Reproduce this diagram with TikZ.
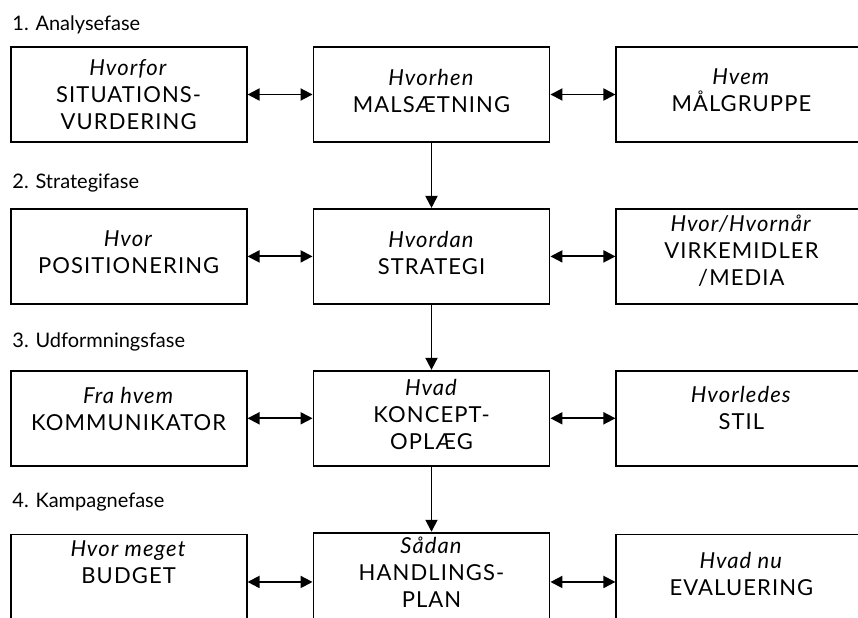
\documentclass[tikz,border=0pt]{standalone}
\usepackage{fontspec}
\setmainfont{Lato}
\usetikzlibrary{arrows.meta, positioning}
\tikzset{
  box/.style     = {draw=black, line width=0.95pt, rectangle, align=center,
                    minimum width=118pt, minimum height=47.5pt, inner sep=2pt,
                    font=\fontsize{11}{13.5}\selectfont\addfontfeatures{LetterSpace=5}},
  boxwide/.style = {box, minimum width=125pt},
  link/.style    = {{Triangle[length=6pt,width=6pt]}-{Triangle[length=6pt,width=6pt]}, line width=0.95pt},
  flow/.style    = {-{Triangle[length=6pt,width=6pt]}, line width=0.95pt},
  phase/.style   = {anchor=west, inner sep=0pt, font=\fontsize{10}{12}\selectfont},
}
\newcommand{\ask}[1]{\textit{#1}\\}
% lifts the text of a box: empty last line
\newcommand{\lift}[1]{\\[#1]\mbox{}}

\begin{document}
\begin{tikzpicture}[x=0.5pt, y=-0.5pt]
  \path[use as bounding box, clip] (0,0) rectangle (858,617);

  % 1. Analysefase
  \node[phase] (ph1) at (12,25) {1. Analysefase};
  \node[box] (mal) at (431.5,94.5) {\ask{Hvorhen}MALSÆTNING\lift{-9.5pt}};
  \node[box, left=32.5pt of mal] (sit) {\ask{Hvorfor}SITUATIONS-\\VURDERING};
  \node[boxwide, right=32.5pt of mal] (grp) {\ask{Hvem}MÅLGRUPPE\lift{-9.5pt}};

  % 2. Strategifase
  \node[phase] (ph2) at (12,183) {2. Strategifase};
  \node[box, below=32.5pt of mal] (strat) {\ask{Hvordan}STRATEGI\lift{-9.5pt}};
  \node[box, left=32.5pt of strat] (pos) {\ask{Hvor}POSITIONERING\lift{-9.5pt}};
  \node[boxwide, right=32.5pt of strat] (virk) {\ask{Hvor/Hvornår}VIRKEMIDLER\\/MEDIA\lift{-7.5pt}};

  % 3. Udformningsfase
  \node[phase] (ph3) at (12,342) {3. Udformningsfase};
  \node[box, below=32.5pt of strat] (konc) {\ask{Hvad}KONCEPT-\\OPLÆG\lift{-9.5pt}};
  \node[box, left=32.5pt of konc] (komm) {\ask{Fra hvem}KOMMUNIKATOR\lift{-4.5pt}};
  \node[boxwide, right=32.5pt of konc] (stil) {\ask{Hvorledes}STIL\lift{-3.5pt}};

  % 4. Kampagnefase
  \node[phase] (ph4) at (12,502) {4. Kampagnefase};
  \node[box, below=32.5pt of konc] (hand) {\ask{Sådan}HANDLINGS-\\PLAN\lift{-3.5pt}};
  \node[box, left=32.5pt of hand] (budg) {\ask{Hvor meget}BUDGET\lift{6.5pt}};
  \node[boxwide, right=32.5pt of hand] (eval) {\ask{Hvad nu}EVALUERING\lift{-5.5pt}};

  \draw[link] (sit) -- (mal);
  \draw[link] (mal) -- (grp);
  \draw[link] (pos) -- (strat);
  \draw[link] (strat) -- (virk);
  \draw[link] (komm) -- (konc);
  \draw[link] (konc) -- (stil);
  \draw[link] (budg) -- (hand);
  \draw[link] (hand) -- (eval);

  \draw[flow] (mal) -- (strat);
  \draw[flow] (strat) -- (konc);
  \draw[flow] (konc) -- (hand);
\end{tikzpicture}
\end{document}
